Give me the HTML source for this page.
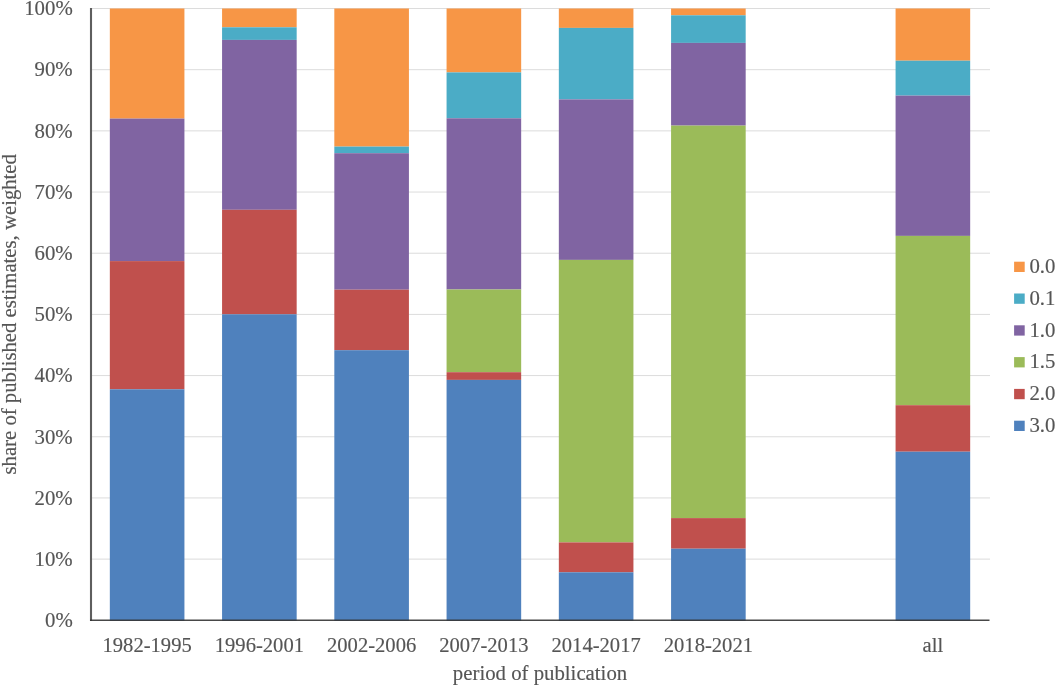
<!DOCTYPE html>
<html lang="en"><head><meta charset="utf-8"><title>share of published estimates by period of publication</title>
<style>
html,body{margin:0;padding:0;background:#fff;}
body{width:1055px;height:686px;overflow:hidden;}
svg{display:block;}
text{font-family:"Liberation Serif","Times New Roman",serif;font-size:20px;fill:#555555;stroke:#595959;stroke-width:0.15px;}
</style></head><body>
<svg width="1055" height="686" viewBox="0 0 1055 686">
<rect width="1055" height="686" fill="#ffffff"/>

<g stroke="#DCDCDC" stroke-width="1">
<line x1="91.0" y1="559.12" x2="990.0" y2="559.12"/>
<line x1="91.0" y1="497.94" x2="990.0" y2="497.94"/>
<line x1="91.0" y1="436.76" x2="990.0" y2="436.76"/>
<line x1="91.0" y1="375.58" x2="990.0" y2="375.58"/>
<line x1="91.0" y1="314.40" x2="990.0" y2="314.40"/>
<line x1="91.0" y1="253.22" x2="990.0" y2="253.22"/>
<line x1="91.0" y1="192.04" x2="990.0" y2="192.04"/>
<line x1="91.0" y1="130.86" x2="990.0" y2="130.86"/>
<line x1="91.0" y1="69.68" x2="990.0" y2="69.68"/>
<line x1="91.0" y1="8.50" x2="990.0" y2="8.50"/>
</g>
<g shape-rendering="auto">
<rect x="109.83" y="8.50" width="74.60" height="110.10" fill="#F79646"/>
<rect x="109.83" y="118.60" width="74.60" height="142.50" fill="#8064A2"/>
<rect x="109.83" y="261.10" width="74.60" height="128.20" fill="#C0504D"/>
<rect x="109.83" y="389.30" width="74.60" height="231.50" fill="#4F81BD"/>
<rect x="222.07" y="8.50" width="74.60" height="18.80" fill="#F79646"/>
<rect x="222.07" y="27.30" width="74.60" height="12.60" fill="#4BACC6"/>
<rect x="222.07" y="39.90" width="74.60" height="169.90" fill="#8064A2"/>
<rect x="222.07" y="209.80" width="74.60" height="104.50" fill="#C0504D"/>
<rect x="222.07" y="314.30" width="74.60" height="306.50" fill="#4F81BD"/>
<rect x="334.32" y="8.50" width="74.60" height="138.10" fill="#F79646"/>
<rect x="334.32" y="146.60" width="74.60" height="6.60" fill="#4BACC6"/>
<rect x="334.32" y="153.20" width="74.60" height="136.50" fill="#8064A2"/>
<rect x="334.32" y="289.70" width="74.60" height="60.50" fill="#C0504D"/>
<rect x="334.32" y="350.20" width="74.60" height="270.60" fill="#4F81BD"/>
<rect x="446.57" y="8.50" width="74.60" height="63.90" fill="#F79646"/>
<rect x="446.57" y="72.40" width="74.60" height="45.90" fill="#4BACC6"/>
<rect x="446.57" y="118.30" width="74.60" height="171.20" fill="#8064A2"/>
<rect x="446.57" y="289.50" width="74.60" height="82.70" fill="#9BBB59"/>
<rect x="446.57" y="372.20" width="74.60" height="7.70" fill="#C0504D"/>
<rect x="446.57" y="379.90" width="74.60" height="240.90" fill="#4F81BD"/>
<rect x="558.83" y="8.50" width="74.60" height="19.40" fill="#F79646"/>
<rect x="558.83" y="27.90" width="74.60" height="71.50" fill="#4BACC6"/>
<rect x="558.83" y="99.40" width="74.60" height="160.50" fill="#8064A2"/>
<rect x="558.83" y="259.90" width="74.60" height="282.50" fill="#9BBB59"/>
<rect x="558.83" y="542.40" width="74.60" height="29.90" fill="#C0504D"/>
<rect x="558.83" y="572.30" width="74.60" height="48.50" fill="#4F81BD"/>
<rect x="671.08" y="8.50" width="74.60" height="6.80" fill="#F79646"/>
<rect x="671.08" y="15.30" width="74.60" height="27.60" fill="#4BACC6"/>
<rect x="671.08" y="42.90" width="74.60" height="82.70" fill="#8064A2"/>
<rect x="671.08" y="125.60" width="74.60" height="392.50" fill="#9BBB59"/>
<rect x="671.08" y="518.10" width="74.60" height="30.60" fill="#C0504D"/>
<rect x="671.08" y="548.70" width="74.60" height="72.10" fill="#4F81BD"/>
<rect x="895.58" y="8.50" width="74.60" height="52.20" fill="#F79646"/>
<rect x="895.58" y="60.70" width="74.60" height="34.90" fill="#4BACC6"/>
<rect x="895.58" y="95.60" width="74.60" height="140.30" fill="#8064A2"/>
<rect x="895.58" y="235.90" width="74.60" height="169.30" fill="#9BBB59"/>
<rect x="895.58" y="405.20" width="74.60" height="46.50" fill="#C0504D"/>
<rect x="895.58" y="451.70" width="74.60" height="169.10" fill="#4F81BD"/>
</g>
<line x1="91.0" y1="8.0" x2="91.0" y2="620.9" stroke="#5e5e5e" stroke-width="2.1"/>
<line x1="90.0" y1="620.1999999999999" x2="989.5" y2="620.1999999999999" stroke="#333333" stroke-width="1.4" stroke-opacity="0.9"/>
<g text-anchor="end">
<text transform="translate(72.70 627.10) scale(1.04 1)" text-anchor="end">0%</text>
<text transform="translate(72.70 565.92) scale(1.04 1)" text-anchor="end">10%</text>
<text transform="translate(72.70 504.74) scale(1.04 1)" text-anchor="end">20%</text>
<text transform="translate(72.70 443.56) scale(1.04 1)" text-anchor="end">30%</text>
<text transform="translate(72.70 382.38) scale(1.04 1)" text-anchor="end">40%</text>
<text transform="translate(72.70 321.20) scale(1.04 1)" text-anchor="end">50%</text>
<text transform="translate(72.70 260.02) scale(1.04 1)" text-anchor="end">60%</text>
<text transform="translate(72.70 198.84) scale(1.04 1)" text-anchor="end">70%</text>
<text transform="translate(72.70 137.66) scale(1.04 1)" text-anchor="end">80%</text>
<text transform="translate(72.70 76.48) scale(1.04 1)" text-anchor="end">90%</text>
<text transform="translate(72.70 15.30) scale(1.04 1)" text-anchor="end">100%</text>
</g>
<g text-anchor="middle">
<text transform="translate(147.12 651.50) scale(1.03 1)" text-anchor="middle">1982-1995</text>
<text transform="translate(259.38 651.50) scale(1.03 1)" text-anchor="middle">1996-2001</text>
<text transform="translate(371.62 651.50) scale(1.03 1)" text-anchor="middle">2002-2006</text>
<text transform="translate(483.88 651.50) scale(1.03 1)" text-anchor="middle">2007-2013</text>
<text transform="translate(596.12 651.50) scale(1.03 1)" text-anchor="middle">2014-2017</text>
<text transform="translate(708.38 651.50) scale(1.03 1)" text-anchor="middle">2018-2021</text>
<text transform="translate(932.88 651.50) scale(1.03 1)" text-anchor="middle">all</text>
<text transform="translate(540.00 679.50) scale(1.04 1)" text-anchor="middle">period of publication</text>
<text transform="translate(15.80 314.30) rotate(-90) scale(1.036 1.06)" text-anchor="middle">share of published estimates, weighted</text>
</g>
<rect x="1014.1" y="261.70" width="10.6" height="10.3" fill="#F79646"/>
<text transform="translate(1029.40 273.00) scale(1.04 1)">0.0</text>
<rect x="1014.1" y="293.50" width="10.6" height="10.3" fill="#4BACC6"/>
<text transform="translate(1029.40 304.80) scale(1.04 1)">0.1</text>
<rect x="1014.1" y="325.30" width="10.6" height="10.3" fill="#8064A2"/>
<text transform="translate(1029.40 336.60) scale(1.04 1)">1.0</text>
<rect x="1014.1" y="357.10" width="10.6" height="10.3" fill="#9BBB59"/>
<text transform="translate(1029.40 368.40) scale(1.04 1)">1.5</text>
<rect x="1014.1" y="388.90" width="10.6" height="10.3" fill="#C0504D"/>
<text transform="translate(1029.40 400.20) scale(1.04 1)">2.0</text>
<rect x="1014.1" y="420.70" width="10.6" height="10.3" fill="#4F81BD"/>
<text transform="translate(1029.40 432.00) scale(1.04 1)">3.0</text>
</svg></body></html>
